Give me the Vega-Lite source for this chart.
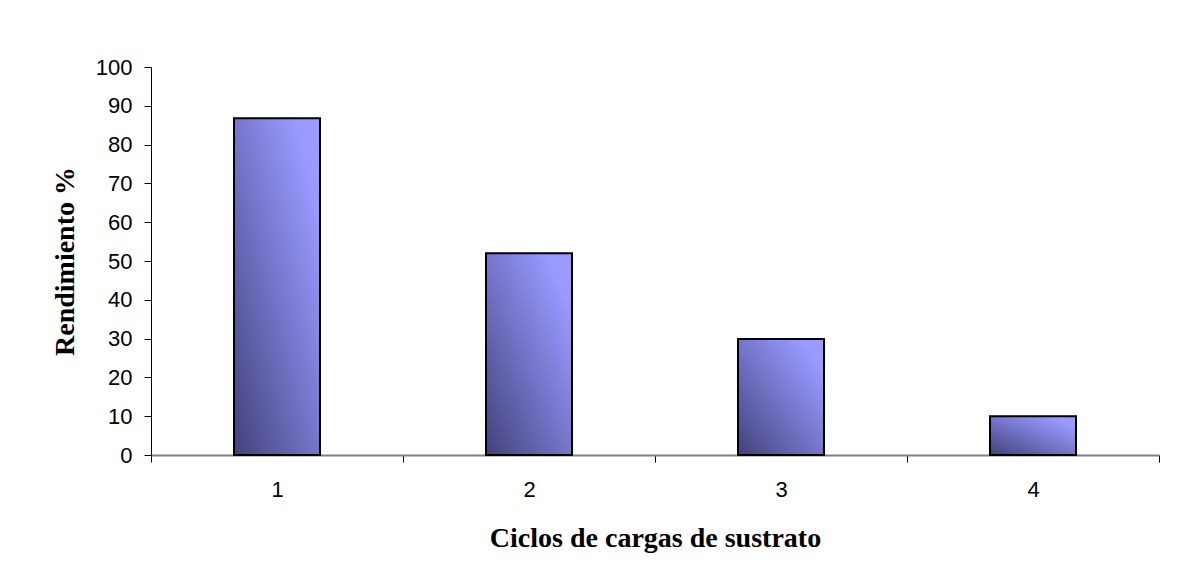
{
  "$schema": "https://vega.github.io/schema/vega-lite/v6.json",
  "autosize": "none",
  "width": 1008,
  "height": 388,
  "padding": {"left": 151, "top": 67, "right": 19, "bottom": 133},
  "background": "white",
  "data": {
    "values": [
      {"ciclo": "1", "rendimiento": 86.8},
      {"ciclo": "2", "rendimiento": 52.0},
      {"ciclo": "3", "rendimiento": 29.9},
      {"ciclo": "4", "rendimiento": 10.0}
    ]
  },
  "mark": {
    "type": "bar",
    "size": 86,
    "stroke": "black",
    "strokeWidth": 2,
    "fill": {
      "gradient": "linear",
      "x1": 0, "y1": 1, "x2": 1, "y2": 0,
      "stops": [
        {"offset": 0, "color": "#42427a"},
        {"offset": 0.5, "color": "#7676cc"},
        {"offset": 0.85, "color": "#9999ff"},
        {"offset": 1, "color": "#9b9bff"}
      ]
    }
  },
  "encoding": {
    "x": {
      "field": "ciclo",
      "type": "ordinal",
      "scale": {"paddingInner": 0, "paddingOuter": 0},
      "axis": {
        "title": "Ciclos de cargas de sustrato",
        "labelAngle": 0,
        "tickBand": "extent",
        "domainColor": "#808080",
        "domainWidth": 2,
        "tickColor": "black",
        "tickSize": 7,
        "labelPadding": 17,
        "labelFont": "Liberation Sans",
        "labelFontSize": 22,
        "labelColor": "black",
        "titleFont": "Liberation Serif",
        "titleFontSize": 28,
        "titleFontWeight": "bold",
        "titleColor": "black",
        "titlePadding": 24
      }
    },
    "y": {
      "field": "rendimiento",
      "type": "quantitative",
      "scale": {"domain": [0, 100], "nice": false},
      "axis": {
        "title": "Rendimiento %",
        "values": [0, 10, 20, 30, 40, 50, 60, 70, 80, 90, 100],
        "grid": false,
        "domainColor": "black",
        "domainWidth": 1,
        "tickColor": "black",
        "tickSize": 7,
        "labelPadding": 12,
        "labelFont": "Liberation Sans",
        "labelFontSize": 22,
        "labelColor": "black",
        "titleFont": "Liberation Serif",
        "titleFontSize": 28,
        "titleFontWeight": "bold",
        "titleColor": "black",
        "titlePadding": 16
      }
    }
  },
  "config": {"view": {"stroke": null}}
}
